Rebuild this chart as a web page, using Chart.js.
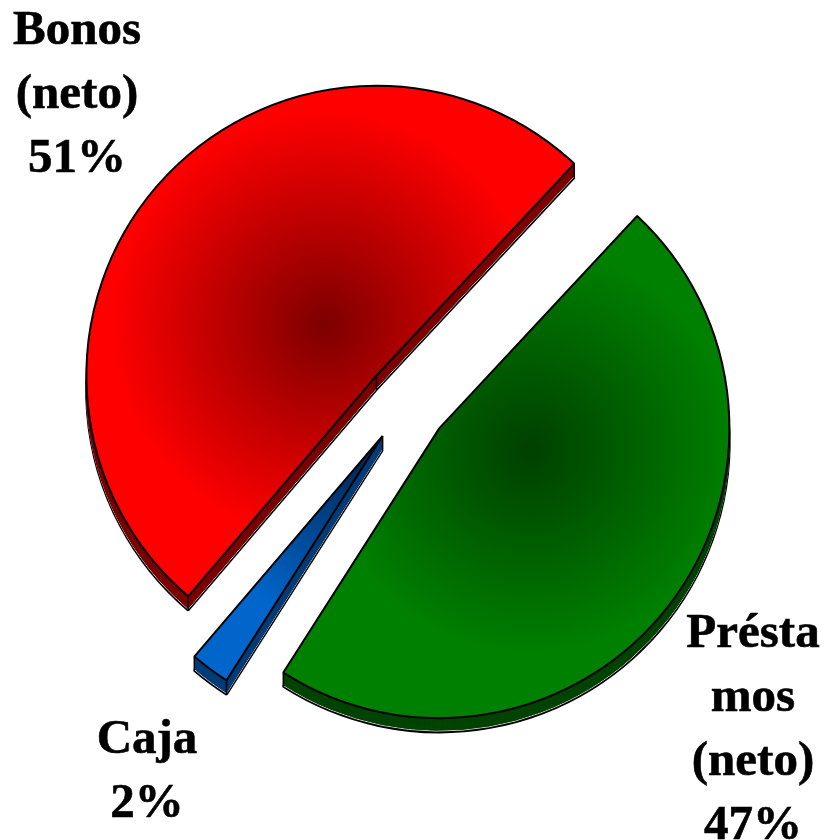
<!DOCTYPE html>
<html>
<head>
<meta charset="utf-8">
<title>Composición</title>
<script src="https://cdn.jsdelivr.net/npm/chart.js@4/dist/chart.umd.min.js"></script>
<style>
  html, body { margin: 0; padding: 0; background: #fff; }
  #wrap { width: 824px; height: 840px; overflow: hidden; }
  canvas { display: block; }
</style>
</head>
<body>
<div id="wrap"><canvas id="pieChart"></canvas></div>
<script>
const categories = ['Préstamos (neto)', 'Caja', 'Bonos (neto)'];
const shares = [47.1, 2.2, 50.7];
const labelLines = [
  ['Présta', 'mos', '(neto)', '47%'],
  ['Caja', '2%'],
  ['Bonos', '(neto)', '51%']
];

const labelAnchors = [[753, 647], [147, 753], [77, 44]];
const lineStep = 64;

const pieRadius = 290;
const explode = 41;
const depth = 14;

const sideColors = ['#004400', '#003c78', '#7c0000'];
// gradient centres are in the slice's own space, before arc.draw shifts it out
const faceStops = [
  [[498, 425, 205], 'rgb(0, 64, 0)', 'rgb(0, 128, 0)'],
  [[404, 407, 200], 'rgb(0, 30, 70)', 'rgb(0, 102, 204)'],
  [[356, 352, 215], 'rgb(125, 0, 0)', 'rgb(255, 0, 0)']
];

const total = shares.reduce((a, b) => a + b, 0);

// arc.draw grows the radius by offset/4 times this factor
const growFactor = (value) => {
  const circ = value / total * Math.PI * 2;
  return 1 - Math.sin(Math.min(Math.PI, circ));
};

const faceColor = (ctx) => {
  const [[x, y, r], inner, outer] = faceStops[ctx.dataIndex];
  const grad = ctx.chart.ctx.createRadialGradient(x, y, 0, x, y, r);
  grad.addColorStop(0, inner);
  grad.addColorStop(1, outer);
  return grad;
};

const drawCopy = (arc, ctx, dy, opts) => {
  const copy = Object.create(arc);
  copy.options = { ...arc.options, ...opts };
  ctx.save();
  ctx.translate(0, dy);
  copy.draw(ctx);
  ctx.restore();
};

// vertical edges of the block at the tip and both ends of a slice
const drawEdges = (arc, ctx, angles) => {
  const mid = (angles[0] + angles[1]) / 2;
  const cx = arc.x + Math.cos(mid) * explode;
  const cy = arc.y + Math.sin(mid) * explode;
  const corners = [[cx, cy]].concat(angles.map((a) => [cx + Math.cos(a) * pieRadius, cy + Math.sin(a) * pieRadius]));
  ctx.save();
  ctx.strokeStyle = '#000';
  ctx.lineWidth = 1.5;
  corners.forEach(([px, py]) => {
    ctx.beginPath();
    ctx.moveTo(px, py);
    ctx.lineTo(px, py + depth);
    ctx.stroke();
  });
  ctx.restore();
};

const pie3d = {
  id: 'pie3d',
  afterDatasetsUpdate(chart) {
    // the offset grows the arc and also trims its angle, take both back
    chart.getDatasetMeta(0).data.forEach((arc, i) => {
      const grow = explode * growFactor(shares[i]);
      const trim = grow / Math.PI / pieRadius / 2;
      arc.trueAngles = [arc.startAngle, arc.endAngle];
      arc.outerRadius = pieRadius - grow;
      arc.startAngle -= trim;
      arc.endAngle += trim;
    });
  },
  beforeDatasetsDraw(chart) {
    const ctx = chart.ctx;
    const arcs = chart.getDatasetMeta(0).data;
    arcs.forEach((arc, i) => {
      drawCopy(arc, ctx, depth, { backgroundColor: sideColors[i], borderColor: '#000', borderWidth: 2.5 });
      drawCopy(arc, ctx, depth - 1, { backgroundColor: sideColors[i], borderColor: '#c8c8c8', borderWidth: 1 });
      for (let d = depth - 2; d > 0; d--) {
        drawCopy(arc, ctx, d, { backgroundColor: sideColors[i], borderColor: sideColors[i], borderWidth: 1 });
      }
      drawEdges(arc, ctx, arc.trueAngles);
    });
  },
  afterDraw(chart) {
    const ctx = chart.ctx;
    ctx.save();
    ctx.fillStyle = '#000';
    ctx.strokeStyle = '#000';
    ctx.lineWidth = 0.6;
    ctx.font = 'bold 49px "Liberation Serif", "Times New Roman", serif';
    ctx.textAlign = 'center';
    ctx.textBaseline = 'alphabetic';
    labelLines.forEach((lines, i) => {
      const [x, y] = labelAnchors[i];
      lines.forEach((line, n) => {
        ctx.fillText(line, x, y + n * lineStep);
        ctx.strokeText(line, x, y + n * lineStep);
      });
    });
    ctx.restore();
  }
};

const pieChart = new Chart(document.getElementById('pieChart'), {
  type: 'pie',
  plugins: [pie3d],
  data: {
    labels: categories,
    datasets: [{
      data: shares,
      radius: pieRadius,
      backgroundColor: faceColor,
      borderColor: '#000',
      borderWidth: 2,
      offset: explode * 4,
      hoverOffset: 0
    }]
  },
  options: {
    responsive: true,
    maintainAspectRatio: false,
    animation: false,
    events: [],
    rotation: 43,
    layout: { padding: { right: 10, bottom: 34 } },
    plugins: {
      legend: { display: false },
      tooltip: { enabled: false },
      title: { display: false }
    }
  }
});
</script>
</body>
</html>
